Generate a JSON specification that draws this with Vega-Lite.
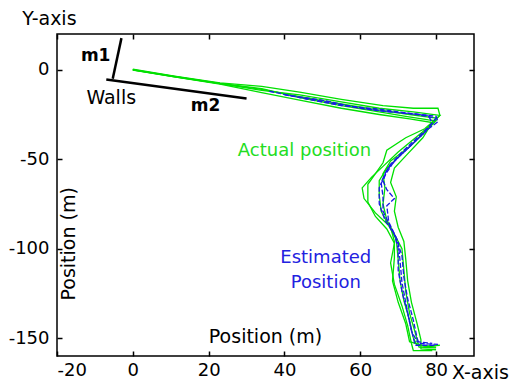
{
 "$schema": "https://vega.github.io/schema/vega-lite/v6.json",
 "width": 417, "height": 322,
 "autosize": {"type": "none"},
 "padding": {"left": 57, "top": 34, "right": 37, "bottom": 31},
 "background": "white",
 "config": {"view": {"stroke": "black", "strokeWidth": 1.5}, "font": "DejaVu Sans",
   "axis": {"grid": false, "domain": false, "tickColor": "black", "tickWidth": 1.5, "tickSize": 5, "offset": -5, "labelColor": "black", "labelFont": "DejaVu Sans", "labelFontSize": 18, "title": null,
     "labelExpr": "datum.value < 0 ? '-' + abs(datum.value) : '' + datum.value"}},
 "resolve": {"axis": {"x": "independent", "y": "independent"}},
 "datasets": {
  "green": [
   {"s":"g1","i":0,"x":0,"y":0},{"s":"g1","i":1,"x":11,"y":-3.8},{"s":"g1","i":2,"x":23,"y":-7.7},{"s":"g1","i":3,"x":34,"y":-11},{"s":"g1","i":4,"x":44,"y":-15},{"s":"g1","i":5,"x":55,"y":-19},{"s":"g1","i":6,"x":65,"y":-22.5},{"s":"g1","i":7,"x":73,"y":-25},{"s":"g1","i":8,"x":80,"y":-27},{"s":"g1","i":9,"x":78.5,"y":-31},{"s":"g1","i":10,"x":74.5,"y":-40},{"s":"g1","i":11,"x":70.5,"y":-48},{"s":"g1","i":12,"x":67,"y":-55},{"s":"g1","i":13,"x":65,"y":-62},{"s":"g1","i":14,"x":65,"y":-70},{"s":"g1","i":15,"x":65.5,"y":-79},{"s":"g1","i":16,"x":67.5,"y":-87},{"s":"g1","i":17,"x":69.5,"y":-95},{"s":"g1","i":18,"x":70,"y":-106},{"s":"g1","i":19,"x":70.5,"y":-118},{"s":"g1","i":20,"x":71.5,"y":-129},{"s":"g1","i":21,"x":73,"y":-140},{"s":"g1","i":22,"x":74,"y":-150},{"s":"g1","i":23,"x":75,"y":-154},{"s":"g1","i":24,"x":80,"y":-155},
   {"s":"g2","i":0,"x":0,"y":0.3},{"s":"g2","i":1,"x":11,"y":-3.5},{"s":"g2","i":2,"x":23,"y":-7.3},{"s":"g2","i":3,"x":34,"y":-9.3},{"s":"g2","i":4,"x":44,"y":-12.5},{"s":"g2","i":5,"x":55,"y":-16.5},{"s":"g2","i":6,"x":66,"y":-20},{"s":"g2","i":7,"x":74,"y":-21.5},{"s":"g2","i":8,"x":80.5,"y":-21.5},{"s":"g2","i":9,"x":81,"y":-25.5},{"s":"g2","i":10,"x":78,"y":-32},{"s":"g2","i":11,"x":74,"y":-39},{"s":"g2","i":12,"x":70,"y":-46},{"s":"g2","i":13,"x":66,"y":-54},{"s":"g2","i":14,"x":63,"y":-60},{"s":"g2","i":15,"x":60.5,"y":-66},{"s":"g2","i":16,"x":61,"y":-72},{"s":"g2","i":17,"x":64,"y":-80},{"s":"g2","i":18,"x":68,"y":-88},{"s":"g2","i":19,"x":69,"y":-96},{"s":"g2","i":20,"x":69,"y":-105},{"s":"g2","i":21,"x":68.5,"y":-118},{"s":"g2","i":22,"x":70,"y":-130},{"s":"g2","i":23,"x":72,"y":-142},{"s":"g2","i":24,"x":73,"y":-152},{"s":"g2","i":25,"x":77,"y":-154.5},{"s":"g2","i":26,"x":81,"y":-154},
   {"s":"g3","i":0,"x":0,"y":-0.2},{"s":"g3","i":1,"x":11,"y":-4},{"s":"g3","i":2,"x":23,"y":-8},{"s":"g3","i":3,"x":34,"y":-12.8},{"s":"g3","i":4,"x":44,"y":-17},{"s":"g3","i":5,"x":55,"y":-21.5},{"s":"g3","i":6,"x":65,"y":-25},{"s":"g3","i":7,"x":73,"y":-27.5},{"s":"g3","i":8,"x":79,"y":-29.5},{"s":"g3","i":9,"x":76.5,"y":-38},{"s":"g3","i":10,"x":72.5,"y":-47},{"s":"g3","i":11,"x":69,"y":-55},{"s":"g3","i":12,"x":68,"y":-63},{"s":"g3","i":13,"x":69.5,"y":-71},{"s":"g3","i":14,"x":69,"y":-79},{"s":"g3","i":15,"x":70,"y":-88},{"s":"g3","i":16,"x":71.5,"y":-96},{"s":"g3","i":17,"x":72,"y":-106},{"s":"g3","i":18,"x":72.5,"y":-118},{"s":"g3","i":19,"x":73.5,"y":-130},{"s":"g3","i":20,"x":75,"y":-142},{"s":"g3","i":21,"x":76,"y":-151},{"s":"g3","i":22,"x":76,"y":-156},{"s":"g3","i":23,"x":80,"y":-156.5},
   {"s":"g4","i":0,"x":0,"y":0},{"s":"g4","i":1,"x":11,"y":-3.9},{"s":"g4","i":2,"x":23,"y":-7.8},{"s":"g4","i":3,"x":34,"y":-11.5},{"s":"g4","i":4,"x":44,"y":-14},{"s":"g4","i":5,"x":55,"y":-18},{"s":"g4","i":6,"x":65,"y":-21.5},{"s":"g4","i":7,"x":74,"y":-23.5},{"s":"g4","i":8,"x":81,"y":-25.5},{"s":"g4","i":9,"x":77,"y":-33},{"s":"g4","i":10,"x":72,"y":-38},{"s":"g4","i":11,"x":67,"y":-45},{"s":"g4","i":12,"x":66,"y":-52},{"s":"g4","i":13,"x":64,"y":-58},{"s":"g4","i":14,"x":62,"y":-64},{"s":"g4","i":15,"x":62,"y":-74},{"s":"g4","i":16,"x":64,"y":-82},{"s":"g4","i":17,"x":67,"y":-89},{"s":"g4","i":18,"x":69,"y":-97},{"s":"g4","i":19,"x":68,"y":-108},{"s":"g4","i":20,"x":69,"y":-120},{"s":"g4","i":21,"x":71,"y":-132},{"s":"g4","i":22,"x":72.5,"y":-143},{"s":"g4","i":23,"x":73.5,"y":-153},{"s":"g4","i":24,"x":74,"y":-157},{"s":"g4","i":25,"x":79,"y":-157},
   {"s":"g5","i":0,"x":0,"y":0.1},{"s":"g5","i":1,"x":11,"y":-3.7},{"s":"g5","i":2,"x":23,"y":-7.6},{"s":"g5","i":3,"x":34,"y":-10.5},{"s":"g5","i":4,"x":44,"y":-15.5},{"s":"g5","i":5,"x":55,"y":-20},{"s":"g5","i":6,"x":65,"y":-23.5},{"s":"g5","i":7,"x":72,"y":-26},{"s":"g5","i":8,"x":78,"y":-28},{"s":"g5","i":9,"x":80,"y":-28.5},{"s":"g5","i":10,"x":77,"y":-35},{"s":"g5","i":11,"x":73,"y":-43},{"s":"g5","i":12,"x":68,"y":-51},{"s":"g5","i":13,"x":66,"y":-58},{"s":"g5","i":14,"x":66.5,"y":-66},{"s":"g5","i":15,"x":66,"y":-75},{"s":"g5","i":16,"x":67,"y":-84},{"s":"g5","i":17,"x":69,"y":-92},{"s":"g5","i":18,"x":71,"y":-100},{"s":"g5","i":19,"x":71.5,"y":-112},{"s":"g5","i":20,"x":72,"y":-124},{"s":"g5","i":21,"x":73,"y":-136},{"s":"g5","i":22,"x":74.5,"y":-147},{"s":"g5","i":23,"x":75.5,"y":-155},{"s":"g5","i":24,"x":80,"y":-155.5}
  ],
  "blue": [
   {"s":"b1","i":0,"x":36,"y":-12},{"s":"b1","i":1,"x":44,"y":-15.5},{"s":"b1","i":2,"x":55,"y":-19.5},{"s":"b1","i":3,"x":65,"y":-23},{"s":"b1","i":4,"x":74,"y":-24.5},{"s":"b1","i":5,"x":80,"y":-26},{"s":"b1","i":6,"x":80.5,"y":-29},{"s":"b1","i":7,"x":78,"y":-33},{"s":"b1","i":8,"x":74,"y":-41},{"s":"b1","i":9,"x":70,"y":-49},{"s":"b1","i":10,"x":67,"y":-56},{"s":"b1","i":11,"x":65.5,"y":-63},{"s":"b1","i":12,"x":66,"y":-71},{"s":"b1","i":13,"x":66,"y":-79},{"s":"b1","i":14,"x":68,"y":-88},{"s":"b1","i":15,"x":70,"y":-96},{"s":"b1","i":16,"x":70.5,"y":-107},{"s":"b1","i":17,"x":71,"y":-119},{"s":"b1","i":18,"x":72,"y":-130},{"s":"b1","i":19,"x":73,"y":-141},{"s":"b1","i":20,"x":74,"y":-150},{"s":"b1","i":21,"x":74.5,"y":-154},{"s":"b1","i":22,"x":80,"y":-154},
   {"s":"b2","i":0,"x":40,"y":-14},{"s":"b2","i":1,"x":50,"y":-17},{"s":"b2","i":2,"x":60,"y":-21.5},{"s":"b2","i":3,"x":70,"y":-24},{"s":"b2","i":4,"x":78,"y":-25.5},{"s":"b2","i":5,"x":79,"y":-30},{"s":"b2","i":6,"x":75,"y":-38},{"s":"b2","i":7,"x":71,"y":-46},{"s":"b2","i":8,"x":67.5,"y":-54},{"s":"b2","i":9,"x":66,"y":-62},{"s":"b2","i":10,"x":67,"y":-67},{"s":"b2","i":11,"x":69,"y":-72},{"s":"b2","i":12,"x":67,"y":-76},{"s":"b2","i":13,"x":67.5,"y":-85},{"s":"b2","i":14,"x":69.5,"y":-94},{"s":"b2","i":15,"x":71,"y":-104},{"s":"b2","i":16,"x":71.5,"y":-116},{"s":"b2","i":17,"x":72.5,"y":-128},{"s":"b2","i":18,"x":74,"y":-140},{"s":"b2","i":19,"x":75,"y":-150},{"s":"b2","i":20,"x":75.5,"y":-153},{"s":"b2","i":21,"x":80.5,"y":-153.5},
   {"s":"b3","i":0,"x":45,"y":-16},{"s":"b3","i":1,"x":55,"y":-20},{"s":"b3","i":2,"x":65,"y":-22},{"s":"b3","i":3,"x":75,"y":-25},{"s":"b3","i":4,"x":80,"y":-27},{"s":"b3","i":5,"x":77,"y":-35},{"s":"b3","i":6,"x":73,"y":-43},{"s":"b3","i":7,"x":69,"y":-51},{"s":"b3","i":8,"x":66.5,"y":-59},{"s":"b3","i":9,"x":65,"y":-66},{"s":"b3","i":10,"x":65,"y":-75},{"s":"b3","i":11,"x":66.5,"y":-84},{"s":"b3","i":12,"x":69,"y":-92},{"s":"b3","i":13,"x":70,"y":-100},{"s":"b3","i":14,"x":70,"y":-112},{"s":"b3","i":15,"x":71,"y":-124},{"s":"b3","i":16,"x":72.5,"y":-136},{"s":"b3","i":17,"x":73.5,"y":-146},{"s":"b3","i":18,"x":75,"y":-152},{"s":"b3","i":19,"x":79,"y":-153}
  ],
  "walls": [
   {"s":"m1","i":0,"x":-5.3,"y":-5},{"s":"m1","i":1,"x":-3,"y":17.7},
   {"s":"m2","i":0,"x":-7,"y":-5.4},{"s":"m2","i":1,"x":30,"y":-16}
  ]
 },
 "layer": [
  {
   "data": {"name": "green"},
   "mark": {"type": "line", "color": "#00e000", "strokeWidth": 1.3},
   "encoding": {
    "x": {"field": "x", "type": "quantitative", "scale": {"domain": [-20, 90], "nice": false, "zero": false},
          "axis": {"orient": "bottom", "values": [-20, 0, 20, 40, 60, 80], "labelPadding": 5}},
    "y": {"field": "y", "type": "quantitative", "scale": {"domain": [-160, 20], "nice": false, "zero": false},
          "axis": {"orient": "left", "values": [-150, -100, -50, 0], "labelPadding": 8}},
    "detail": {"field": "s"},
    "order": {"field": "i"}
   }
  },
  {
   "data": {"name": "blue"},
   "mark": {"type": "line", "color": "#1a1ae6", "strokeWidth": 1.3, "strokeDash": [5, 2]},
   "encoding": {
    "x": {"field": "x", "type": "quantitative", "axis": {"orient": "top", "values": [-20, 0, 20, 40, 60, 80], "labels": false}},
    "y": {"field": "y", "type": "quantitative", "axis": {"orient": "right", "values": [-150, -100, -50, 0], "labels": false}},
    "detail": {"field": "s"},
    "order": {"field": "i"}
   }
  },
  {
   "data": {"name": "walls"},
   "mark": {"type": "line", "color": "black", "strokeWidth": 2.5},
   "encoding": {
    "x": {"field": "x", "type": "quantitative", "axis": null},
    "y": {"field": "y", "type": "quantitative", "axis": null},
    "detail": {"field": "s"},
    "order": {"field": "i"}
   }
  },
  {
   "data": {"values": [
     {"t": "Walls", "x": -5.7, "y": -15.8},
     {"t": "Position (m)", "x": 35.0, "y": -149.4},
     {"t": "Y-axis", "x": -22.0, "y": 28.5},
     {"t": "X-axis", "x": 91.7, "y": -169.6}
   ]},
   "mark": {"type": "text", "font": "DejaVu Sans", "fontSize": 19, "color": "black", "baseline": "middle", "align": "center"},
   "encoding": {
    "x": {"field": "x", "type": "quantitative", "axis": null},
    "y": {"field": "y", "type": "quantitative", "axis": null},
    "text": {"field": "t"}
   }
  },
  {
   "data": {"values": [{"t": "Position (m)", "x": -16.8, "y": -97.3}]},
   "mark": {"type": "text", "font": "DejaVu Sans", "fontSize": 19, "color": "black", "baseline": "middle", "align": "center", "angle": 270},
   "encoding": {
    "x": {"field": "x", "type": "quantitative", "axis": null},
    "y": {"field": "y", "type": "quantitative", "axis": null},
    "text": {"field": "t"}
   }
  },
  {
   "data": {"values": [{"t": "m1", "x": -9.8, "y": 7.5}, {"t": "m2", "x": 19.2, "y": -20}]},
   "mark": {"type": "text", "font": "DejaVu Sans", "fontSize": 17, "fontWeight": "bold", "color": "black", "baseline": "middle", "align": "center"},
   "encoding": {
    "x": {"field": "x", "type": "quantitative", "axis": null},
    "y": {"field": "y", "type": "quantitative", "axis": null},
    "text": {"field": "t"}
   }
  },
  {
   "data": {"values": [{"t": "Actual position", "x": 45.3, "y": -45.2}]},
   "mark": {"type": "text", "font": "DejaVu Sans", "fontSize": 18, "color": "#22dd22", "baseline": "middle", "align": "center"},
   "encoding": {
    "x": {"field": "x", "type": "quantitative", "axis": null},
    "y": {"field": "y", "type": "quantitative", "axis": null},
    "text": {"field": "t"}
   }
  },
  {
   "data": {"values": [{"t": "Estimated\nPosition", "x": 50.9, "y": -105.4}]},
   "mark": {"type": "text", "font": "DejaVu Sans", "fontSize": 18, "color": "#2222e0", "baseline": "middle", "align": "center", "lineBreak": "\n", "lineHeight": 24.5},
   "encoding": {
    "x": {"field": "x", "type": "quantitative", "axis": null},
    "y": {"field": "y", "type": "quantitative", "axis": null},
    "text": {"field": "t"}
   }
  }
 ]
}
